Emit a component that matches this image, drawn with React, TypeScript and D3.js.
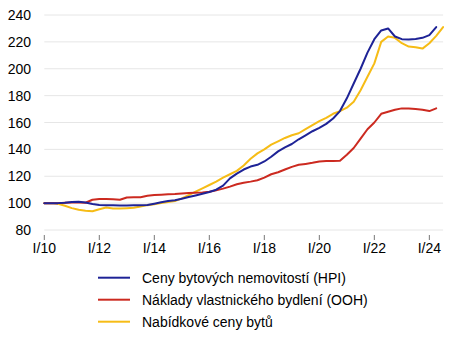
import React from "react";
import * as d3 from "d3";

// Quarterly indices, 2010Q1 = 100
const startYear = 2010;
const hpi = [
  100, 100, 100, 100.3, 100.8, 101, 100.5, 99.3, 98.6, 98.5,
  98.4, 98.3, 98.3, 98.5, 98.5, 98.6, 99.6, 100.6, 101.5, 102.2,
  103.3, 104.5, 105.7, 107, 108.3, 110, 113, 118.4, 122, 125,
  127.2, 128.5, 131, 134.5, 138.5, 141.5, 144, 147.5, 150.5, 153.5,
  156, 159, 163, 168.5, 178, 189, 200, 212, 222, 228.5,
  230, 224, 222, 221.8, 222.2, 223, 225, 231,
];
const ooh = [
  100, 100, 100, 100.2, 100.4, 100.5, 100.3, 102.5, 103, 103,
  102.8, 102.5, 104.2, 104.3, 104.3, 105.5, 106, 106.3, 106.6, 106.8,
  107.2, 107.5, 107.8, 108, 108.5, 109.5, 110.8, 112.3, 114, 115.2,
  116, 117, 119, 121.5, 123, 125, 127, 128.5, 129.2, 130,
  131, 131.3, 131.3, 131.5, 136, 141, 148, 155, 160, 166.5,
  168, 169.5, 170.5, 170.5, 170, 169.5, 168.5, 170.5,
];
const offer = [
  100, 100, 99.5, 98, 96.3, 95, 94.3, 94, 95.5, 96.8,
  96, 96, 96.2, 96.5, 97.5, 98.5, 99.2, 100, 100.8, 101.5,
  103.5, 106, 108.5, 111, 113.5, 116, 119, 121.5, 124, 128,
  133, 137, 140, 143.5, 146, 148.5, 150.5, 152, 155, 158,
  161, 163.5, 166.5, 168.5, 171, 175.5, 184, 194, 204, 220,
  224, 223, 219, 216.5, 216, 215, 219, 224.5, 231,
];
const seriesNames = [
  "Ceny bytových nemovitostí (HPI)",
  "Náklady vlastnického bydlení (OOH)",
  "Nabídkové ceny bytů",
];
const seriesColors = ["#1e2396", "#cc2a20", "#f6bc16"];
const yTicks = [80, 100, 120, 140, 160, 180, 200, 220, 240];
const xTickYears = [2010, 2012, 2014, 2016, 2018, 2020, 2022, 2024];

const W = 474;
const H = 344;
const left = 44.3;
const right = 443.1;
const top = 15;
const bottom = 230;

export default function App() {
  const x = d3.scaleLinear().domain([0, 58]).range([left, right]);
  const y = d3.scaleLinear().domain([80, 240]).range([bottom, top]);
  const line = d3
    .line<number>()
    .x((_, i) => x(i))
    .y((d) => y(d))
    .curve(d3.curveLinear);
  const data = [hpi, ooh, offer];
  const drawOrder = [2, 1, 0];
  const font = "'Liberation Sans', Arial, sans-serif";

  return (
    <svg
      width={W}
      height={H}
      style={{ position: "absolute", left: 0, top: 0, background: "#fff" }}
      fontFamily={font}
    >
      {yTicks.map((t) => (
        <g key={t}>
          <line x1={left} x2={right} y1={y(t)} y2={y(t)} stroke="#e6e6e6" strokeWidth={1} />
          <text x={31} y={y(t)} textAnchor="end" dominantBaseline="central" fontSize={14} fill="#000">
            {t}
          </text>
        </g>
      ))}
      {xTickYears.map((yr) => {
        const xi = x((yr - startYear) * 4);
        return (
          <g key={yr}>
            <line x1={xi} x2={xi} y1={235} y2={240} stroke="#777" strokeWidth={1} />
            <text x={xi} y={253} textAnchor="middle" fontSize={14} fill="#000">
              {"I/" + String(yr).slice(2)}
            </text>
          </g>
        );
      })}
      {drawOrder.map((k) => (
        <path
          key={k}
          d={line(data[k]) || ""}
          fill="none"
          stroke={seriesColors[k]}
          strokeWidth={2}
          strokeLinejoin="round"
          strokeLinecap="round"
        />
      ))}
      {seriesNames.map((n, k) => {
        const ly = 277.7 + k * 22;
        return (
          <g key={n}>
            <line x1={98} x2={130} y1={ly} y2={ly} stroke={seriesColors[k]} strokeWidth={2} />
            <text x={142} y={ly} dominantBaseline="central" fontSize={14} fill="#000">
              {n}
            </text>
          </g>
        );
      })}
    </svg>
  );
}
